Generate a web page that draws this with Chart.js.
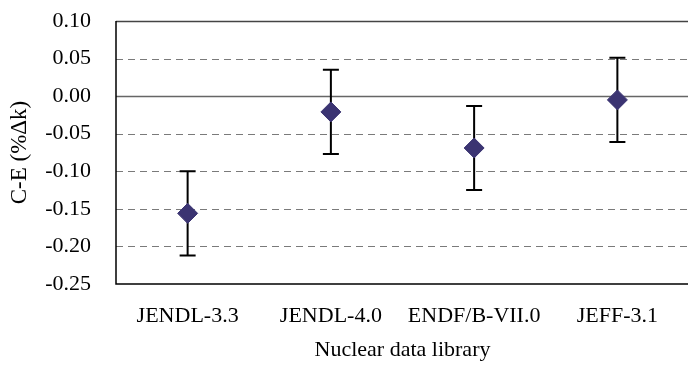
<!DOCTYPE html>
<html>
<head>
<meta charset="utf-8">
<script src="https://cdn.jsdelivr.net/npm/chart.js@4.4.1/dist/chart.umd.min.js"></script>
<style>
    html, body { margin: 0; padding: 0; background: #fff; overflow: hidden; }
    #wrap { width: 700px; height: 367px; }
</style>
</head>
<body>
<div id="wrap"><canvas id="libChart" width="700" height="367"></canvas></div>
<script>
// values
const libraries = ['JENDL-3.3', 'JENDL-4.0', 'ENDF/B-VII.0', 'JEFF-3.1'];
const ceValues = [-0.156, -0.021, -0.069, -0.005];
const ceErrors = [0.056, 0.056, 0.056, 0.056];
const yTicks = [0.10, 0.05, 0.00, -0.05, -0.10, -0.15, -0.20, -0.25];

const serif = "'Liberation Serif', 'Times New Roman', serif";

// dashed grid, zero line, frame and error bars
const frame = {
    id: 'frame',
    beforeDatasetsDraw(chart) {
        const { ctx, chartArea: a, scales: { x, y } } = chart;
        ctx.save();
        yTicks.forEach(v => {
            const py = Math.round(y.getPixelForValue(v)) + 0.5;
            if (v === y.min) return;
            if (v === 0) {
                ctx.setLineDash([]);
                ctx.strokeStyle = '#666';
                ctx.lineWidth = 1.5;
            } else if (v === y.max) {
                ctx.setLineDash([]);
                ctx.strokeStyle = '#444';
                ctx.lineWidth = 1.5;
            } else {
                ctx.setLineDash([7, 5]);
                ctx.strokeStyle = '#7a7a7a';
                ctx.lineWidth = 1.2;
            }
            ctx.beginPath();
            ctx.moveTo(a.left, py);
            ctx.lineTo(a.right, py);
            ctx.stroke();
        });
        ctx.setLineDash([]);
        ctx.strokeStyle = '#000';
        ctx.lineWidth = 1.5;
        ctx.beginPath();
        ctx.moveTo(a.left, a.top);
        ctx.lineTo(a.left, a.bottom);
        ctx.lineTo(a.right, a.bottom);
        ctx.stroke();

        ctx.lineWidth = 2;
        ceValues.forEach((v, i) => {
            const px = x.getPixelForValue(i);
            const top = y.getPixelForValue(v + ceErrors[i]);
            const bot = y.getPixelForValue(v - ceErrors[i]);
            ctx.beginPath();
            ctx.moveTo(px, top);
            ctx.lineTo(px, bot);
            ctx.moveTo(px - 8, top);
            ctx.lineTo(px + 8, top);
            ctx.moveTo(px - 8, bot);
            ctx.lineTo(px + 8, bot);
            ctx.stroke();
        });
        ctx.restore();
    }
};

new Chart(document.getElementById('libChart'), {
    type: 'line',
    data: {
        labels: libraries,
        datasets: [{
            label: 'C-E',
            data: ceValues,
            showLine: false,
            pointStyle: 'rectRot',
            pointRadius: 10,
            pointHoverRadius: 10,
            backgroundColor: '#3b3472',
            borderColor: '#3b3472',
            borderWidth: 1,
        }]
    },
    options: {
        responsive: false,
        animation: false,
        devicePixelRatio: 1,
        layout: { padding: { top: 21, right: 8, left: 0, bottom: 0 } },
        plugins: { legend: { display: false }, tooltip: { enabled: false } },
        scales: {
            x: {
                offset: true,
                grid: { display: false, drawTicks: false },
                border: { display: false },
                ticks: { color: '#000', font: { family: serif, size: 22 }, padding: 19, maxRotation: 0 },
                title: { display: true, text: 'Nuclear data library', color: '#000', font: { family: serif, size: 22 }, padding: { top: 0, bottom: 4 } },
                afterFit(s) { s.height = 83; s.paddingLeft = 0; s.paddingRight = 0; }
            },
            y: {
                min: -0.25,
                max: 0.10,
                grid: { display: false, drawTicks: false },
                border: { display: false },
                ticks: {
                    stepSize: 0.05,
                    color: '#000',
                    font: { family: serif, size: 22 },
                    padding: 25,
                    callback: v => v.toFixed(2)
                },
                afterBuildTicks(s) { s.ticks = yTicks.map(v => ({ value: v })); },
                title: { display: true, text: 'C-E (%Δk)', color: '#000', font: { family: serif, size: 23 }, padding: { top: 6, bottom: 0 } },
                afterFit(s) { s.width = 116; s.paddingTop = 0; s.paddingBottom = 0; }
            }
        }
    },
    plugins: [frame]
});
</script>
</body>
</html>
